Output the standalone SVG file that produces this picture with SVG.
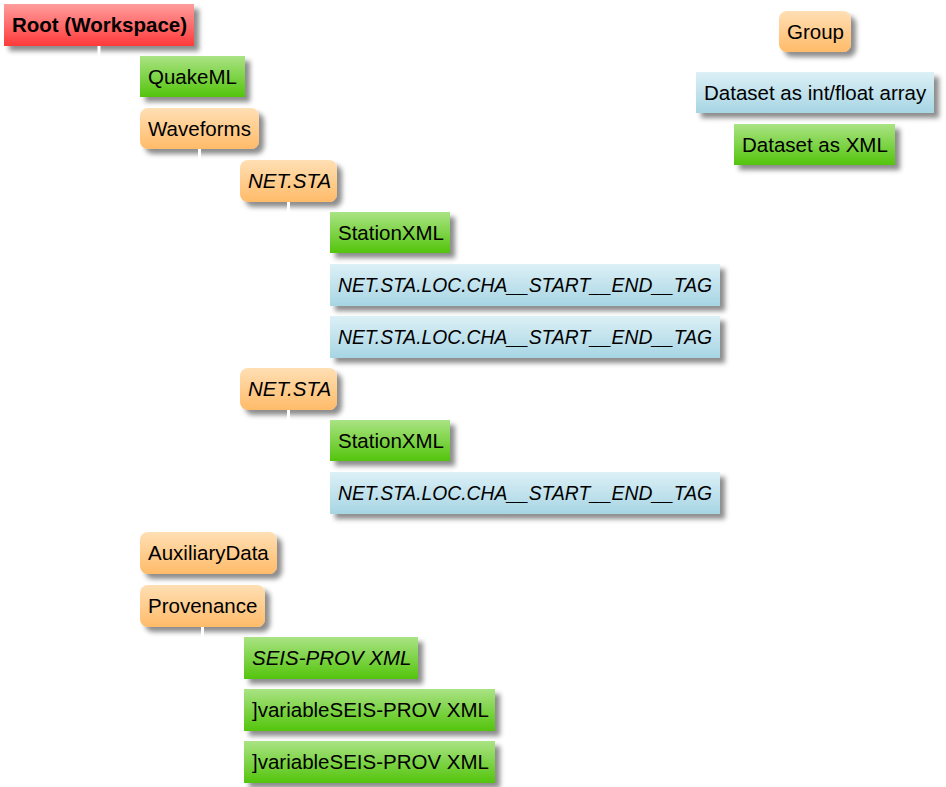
<svg xmlns="http://www.w3.org/2000/svg" width="946" height="787" viewBox="0 0 946 787">
<defs>
<linearGradient id="gRed" x1="0" y1="0" x2="0" y2="1"><stop offset="0" stop-color="#ff9d9d"/><stop offset="1" stop-color="#ff3a3a"/></linearGradient>
<linearGradient id="gGreen" x1="0" y1="0" x2="0" y2="1"><stop offset="0" stop-color="#aae384"/><stop offset="1" stop-color="#53c40c"/></linearGradient>
<linearGradient id="gOrange" x1="0" y1="0" x2="0" y2="1"><stop offset="0" stop-color="#ffdfb4"/><stop offset="1" stop-color="#ffbb69"/></linearGradient>
<linearGradient id="gBlue" x1="0" y1="0" x2="0" y2="1"><stop offset="0" stop-color="#dcf0f6"/><stop offset="1" stop-color="#a7d5e4"/></linearGradient>
<filter id="sh" x="-10%" y="-20%" width="130%" height="160%"><feDropShadow dx="5" dy="5" stdDeviation="2.5" flood-color="#000" flood-opacity="0.45"/></filter>
</defs>
<style>
text{font-family:"Liberation Sans",Arial,sans-serif;font-size:20.5px;fill:#000}
.b{font-weight:bold}
.i{font-style:italic}
.red{fill:url(#gRed);filter:url(#sh)}
.green{fill:url(#gGreen);filter:url(#sh)}
.orange{fill:url(#gOrange);filter:url(#sh)}
.blue{fill:url(#gBlue);filter:url(#sh)}
.c{stroke:#fff;stroke-width:3;fill:none}
</style>
<rect width="946" height="787" fill="#fff"/>
<g id="root"><rect class="red" x="4" y="4" width="190" height="42"/><text class="b" x="12" y="32">Root (Workspace)</text></g>
<g id="quakeml"><rect class="green" x="140" y="56" width="105" height="41"/><text x="148" y="84">QuakeML</text></g>
<g id="waveforms"><rect class="orange" x="140" y="108" width="119" height="41" rx="8"/><text x="148" y="136">Waveforms</text></g>
<g id="netsta1"><rect class="orange" x="240" y="160" width="97" height="42" rx="8"/><text class="i" x="248" y="188">NET.STA</text></g>
<g id="stationxml1"><rect class="green" x="330" y="212" width="120" height="41"/><text x="338" y="240">StationXML</text></g>
<g id="trace1"><rect class="blue" x="330" y="264" width="390" height="42"/><text class="i" x="338" y="292" textLength="374" lengthAdjust="spacingAndGlyphs">NET.STA.LOC.CHA__START__END__TAG</text></g>
<g id="trace2"><rect class="blue" x="330" y="316" width="390" height="42"/><text class="i" x="338" y="344" textLength="374" lengthAdjust="spacingAndGlyphs">NET.STA.LOC.CHA__START__END__TAG</text></g>
<g id="netsta2"><rect class="orange" x="240" y="368" width="97" height="42" rx="8"/><text class="i" x="248" y="396">NET.STA</text></g>
<g id="stationxml2"><rect class="green" x="330" y="420" width="120" height="41"/><text x="338" y="448">StationXML</text></g>
<g id="trace3"><rect class="blue" x="330" y="472" width="390" height="42"/><text class="i" x="338" y="500" textLength="374" lengthAdjust="spacingAndGlyphs">NET.STA.LOC.CHA__START__END__TAG</text></g>
<g id="auxiliarydata"><rect class="orange" x="140" y="532" width="137" height="42" rx="8"/><text x="148" y="560">AuxiliaryData</text></g>
<g id="provenance"><rect class="orange" x="140" y="585" width="125" height="42" rx="8"/><text x="148" y="613">Provenance</text></g>
<g id="seisprov"><rect class="green" x="244" y="637" width="174" height="42"/><text class="i" x="252" y="665">SEIS-PROV XML</text></g>
<g id="variable1"><rect class="green" x="244" y="689" width="251" height="42"/><text x="252" y="717">]variableSEIS-PROV XML</text></g>
<g id="variable2"><rect class="green" x="244" y="741" width="251" height="42"/><text x="252" y="769">]variableSEIS-PROV XML</text></g>
<g id="legend-group"><rect class="orange" x="779" y="11" width="72" height="41" rx="8"/><text x="787" y="39">Group</text></g>
<g id="legend-array"><rect class="blue" x="696" y="72" width="238" height="41"/><text x="704" y="100">Dataset as int/float array</text></g>
<g id="legend-xml"><rect class="green" x="734" y="124" width="161" height="41"/><text x="742" y="152">Dataset as XML</text></g>
<g id="connectors">
<path class="c" d="M99 46V606M99 76.5H140M99 128.5H140M99 553H140M99 606H140"/>
<path class="c" d="M199.5 149V389M199.5 181H240M199.5 389H240"/>
<path class="c" d="M288.5 202V337M288.5 232.5H330M288.5 285H330M288.5 337H330"/>
<path class="c" d="M288.5 410V493M288.5 440.5H330M288.5 493H330"/>
<path class="c" d="M202.5 627V762M202.5 658H244M202.5 710H244M202.5 762H244"/>
</g>
</svg>
